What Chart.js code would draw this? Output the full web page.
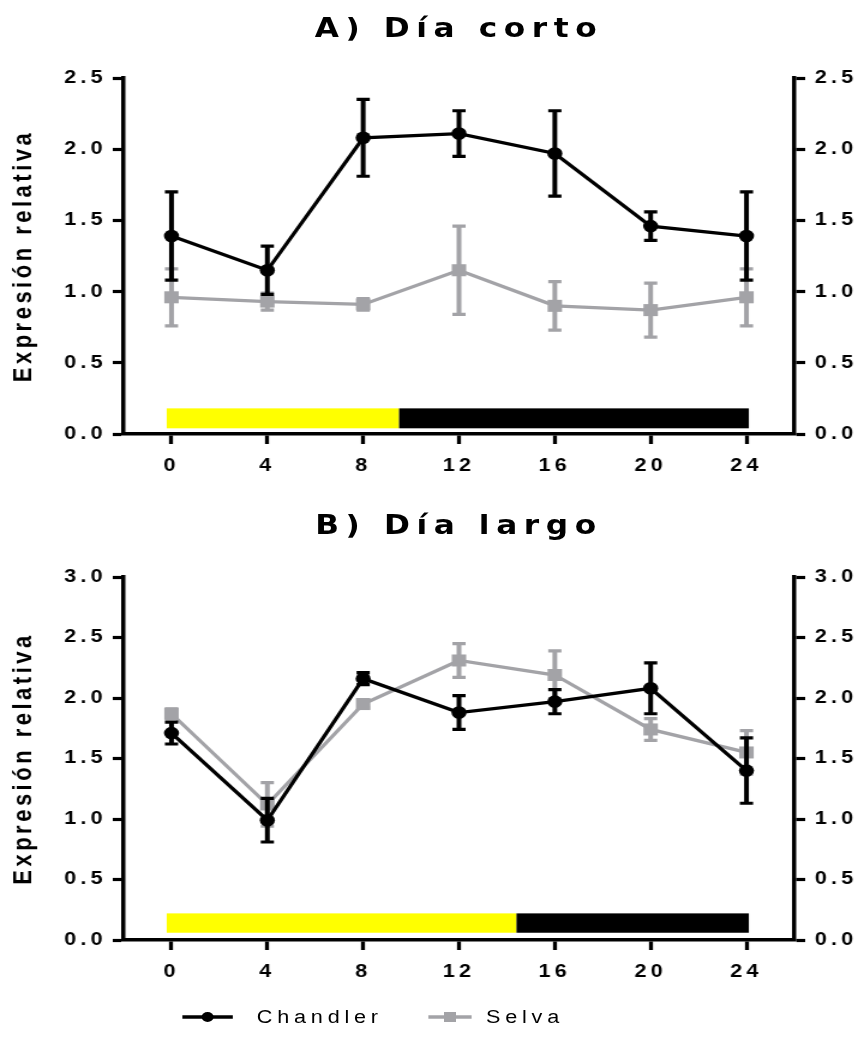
<!DOCTYPE html>
<html>
<head>
<meta charset="utf-8">
<script src="https://cdn.jsdelivr.net/npm/chart.js@4.4.1/dist/chart.umd.min.js"></script>
<style>
  html, body { margin: 0; padding: 0; background: #fff; }
  /* the reference is a horizontally stretched export, so the whole figure is drawn narrow and scaled */
  #stage { position: absolute; left: 0; top: 0; width: 723px; height: 1043px; transform: scaleX(1.2); transform-origin: 0 0; }
  #stage canvas { position: absolute; left: 0; }
  .title { position: absolute; left: 103px; width: 559px; text-align: center; white-space: nowrap;
           font-family: "DejaVu Sans", sans-serif; font-weight: bold; font-size: 26px; line-height: 30px;
           letter-spacing: 5.5px; color: #000; }
  .leg { position: absolute; top: 1006px; font-family: "Liberation Sans", Arial, sans-serif; font-size: 18px;
         line-height: 22px; letter-spacing: 4px; color: #000; }
  #legsvg { position: absolute; left: 0; top: 1000px; }
</style>
</head>
<body>
<div id="stage">
  <div class="title" style="top:13px">A) Día corto</div>
  <canvas id="shortDay" width="723" height="490" style="top:0"></canvas>
  <div class="title" style="top:510px">B) Día largo</div>
  <canvas id="longDay" width="723" height="510" style="top:490px"></canvas>
  <svg id="legsvg" width="723" height="34">
    <line x1="152" y1="17" x2="194" y2="17" stroke="#000" stroke-width="3.5"/>
    <circle cx="173" cy="17" r="5" fill="#000"/>
    <line x1="357" y1="17" x2="393" y2="17" stroke="#a3a3a7" stroke-width="3.5"/>
    <rect x="370" y="12" width="10" height="10" fill="#a3a3a7"/>
  </svg>
  <span class="leg" style="left:214px">Chandler</span>
  <span class="leg" style="left:405px">Selva</span>
</div>

<script>
// time points (h)
const hours = [0, 4, 8, 12, 16, 20, 24];

// A) short day
const chandlerShort = [1.39, 1.15, 2.08, 2.11, 1.97, 1.46, 1.39];
const chandlerShortErr = [0.31, 0.17, 0.27, 0.16, 0.30, 0.10, 0.31];
const selvaShort = [0.96, 0.93, 0.91, 1.15, 0.90, 0.87, 0.96];
const selvaShortErr = [0.20, 0.06, 0.04, 0.31, 0.17, 0.19, 0.20];

// B) long day
const chandlerLong = [1.71, 0.99, 2.16, 1.88, 1.97, 2.08, 1.40];
const chandlerLongErr = [0.09, 0.18, 0.05, 0.14, 0.10, 0.21, 0.27];
const selvaLong = [1.87, 1.12, 1.95, 2.31, 2.19, 1.74, 1.55];
const selvaLongErr = [0.04, 0.18, 0.03, 0.14, 0.20, 0.09, 0.18];

// light / dark periods (h) and y ticks
const lightStart = -0.2;
const shortLightEnd = 9.5;
const longLightEnd = 14.4;
const darkEnd = 24.1;
const yTicksShort = [0, 0.5, 1.0, 1.5, 2.0, 2.5];
const yTicksLong = [0, 0.5, 1.0, 1.5, 2.0, 2.5, 3.0];

const BLACK = '#000000';
const GREY = '#a3a3a7';
const TICK_FONT = { family: '"Liberation Sans", Arial, sans-serif', size: 18, weight: 'bold' };

const spacing = {
  id: 'spacing',
  beforeUpdate(chart) { chart.ctx.letterSpacing = '3.5px'; },
  beforeDraw(chart) { chart.ctx.letterSpacing = '3.5px'; }
};

// SEM bars, drawn just before each line so the black series stays on top
const errorBars = {
  id: 'errorBars',
  beforeDatasetDraw(chart, args) {
    const ds = chart.data.datasets[args.index];
    if (!ds.errors) return;
    const { ctx, scales: { x, y } } = chart;
    ctx.save();
    ctx.strokeStyle = ds.borderColor;
    ds.data.forEach((p, i) => {
      const px = x.getPixelForValue(p.x);
      const top = y.getPixelForValue(p.y + ds.errors[i]);
      const bot = y.getPixelForValue(p.y - ds.errors[i]);
      ctx.lineWidth = 4;
      ctx.beginPath();
      ctx.moveTo(px, top);
      ctx.lineTo(px, bot);
      ctx.stroke();
      ctx.lineWidth = 3.2;
      ctx.beginPath();
      ctx.moveTo(px - 5.5, top);
      ctx.lineTo(px + 5.5, top);
      ctx.moveTo(px - 5.5, bot);
      ctx.lineTo(px + 5.5, bot);
      ctx.stroke();
    });
    ctx.restore();
  }
};

// yellow / black photoperiod strip
const photoperiod = {
  id: 'photoperiod',
  beforeDatasetsDraw(chart, args, opts) {
    const { ctx, scales: { x, y } } = chart;
    const yTop = y.getPixelForValue(opts.high);
    const yBot = y.getPixelForValue(opts.low);
    const xa = x.getPixelForValue(opts.start);
    const xb = x.getPixelForValue(opts.lightEnd);
    const xc = x.getPixelForValue(opts.end);
    ctx.save();
    ctx.fillStyle = '#ffff00';
    ctx.fillRect(xa, yTop, xb - xa, yBot - yTop);
    ctx.fillStyle = BLACK;
    ctx.fillRect(xb, yTop, xc - xb, yBot - yTop);
    ctx.restore();
  }
};

function points(vals) {
  return hours.map((h, i) => ({ x: h, y: vals[i] }));
}

function yAxis(position, ticks, max, width) {
  return {
    type: 'linear',
    position: position,
    min: 0,
    max: max,
    afterBuildTicks: (axis) => { axis.ticks = ticks.map(v => ({ value: v })); },
    afterFit: (axis) => { axis.width = width; },
    border: { display: true, color: BLACK, width: 3.5 },
    grid: { drawOnChartArea: false, drawTicks: true, tickLength: 9, tickWidth: 3.2, tickColor: BLACK },
    ticks: {
      color: BLACK,
      font: TICK_FONT,
      padding: position === 'left' ? 5 : 8,
      callback: (v) => v.toFixed(1)
    },
    title: position === 'left' ? {
      display: true,
      text: 'Expresión relativa',
      color: BLACK,
      font: { family: '"Liberation Sans", Arial, sans-serif', size: 22, weight: 'bold' },
      padding: { top: 7, bottom: 0 }
    } : { display: false }
  };
}

function makeChart(id, chandler, chandlerErr, selva, selvaErr, ticks, max, lightEnd, strip, topPad, xHeight) {
  return new Chart(document.getElementById(id), {
    type: 'line',
    data: {
      datasets: [
        {
          label: 'Chandler',
          data: points(chandler),
          errors: chandlerErr,
          borderColor: BLACK,
          backgroundColor: BLACK,
          borderWidth: 3.3,
          pointStyle: 'circle',
          pointRadius: 6.3,
          pointBorderWidth: 0,
          tension: 0
        },
        {
          label: 'Selva',
          data: points(selva),
          errors: selvaErr,
          borderColor: GREY,
          backgroundColor: GREY,
          borderWidth: 3.3,
          pointStyle: 'rect',
          pointRadius: 8.5,
          pointBorderWidth: 0,
          tension: 0
        }
      ]
    },
    options: {
      responsive: false,
      animation: false,
      devicePixelRatio: 1,
      layout: { padding: { top: topPad, left: 0, right: 0, bottom: 0 } },
      plugins: {
        legend: { display: false },
        tooltip: { enabled: false },
        photoperiod: { start: lightStart, lightEnd: lightEnd, end: darkEnd, low: strip[0], high: strip[1] }
      },
      scales: {
        x: {
          type: 'linear',
          min: -2,
          max: 26,
          afterBuildTicks: (axis) => { axis.ticks = hours.map(v => ({ value: v })); },
          afterFit: (axis) => { axis.height = xHeight; },
          border: { display: true, color: BLACK, width: 3.5 },
          grid: { drawOnChartArea: false, drawTicks: true, tickLength: 10, tickWidth: 3.3, tickColor: BLACK },
          ticks: { color: BLACK, font: TICK_FONT, padding: 11, maxRotation: 0 }
        },
        y: yAxis('left', ticks, max, 103),
        y2: yAxis('right', ticks, max, 61)
      }
    },
    plugins: [spacing, photoperiod, errorBars]
  });
}

makeChart('shortDay', chandlerShort, chandlerShortErr, selvaShort, selvaShortErr,
  yTicksShort, 2.5, shortLightEnd, [0.04, 0.18], 78, 56);
makeChart('longDay', chandlerLong, chandlerLongErr, selvaLong, selvaLongErr,
  yTicksLong, 3.0, longLightEnd, [0.06, 0.22], 87, 60);
</script>
</body>
</html>
